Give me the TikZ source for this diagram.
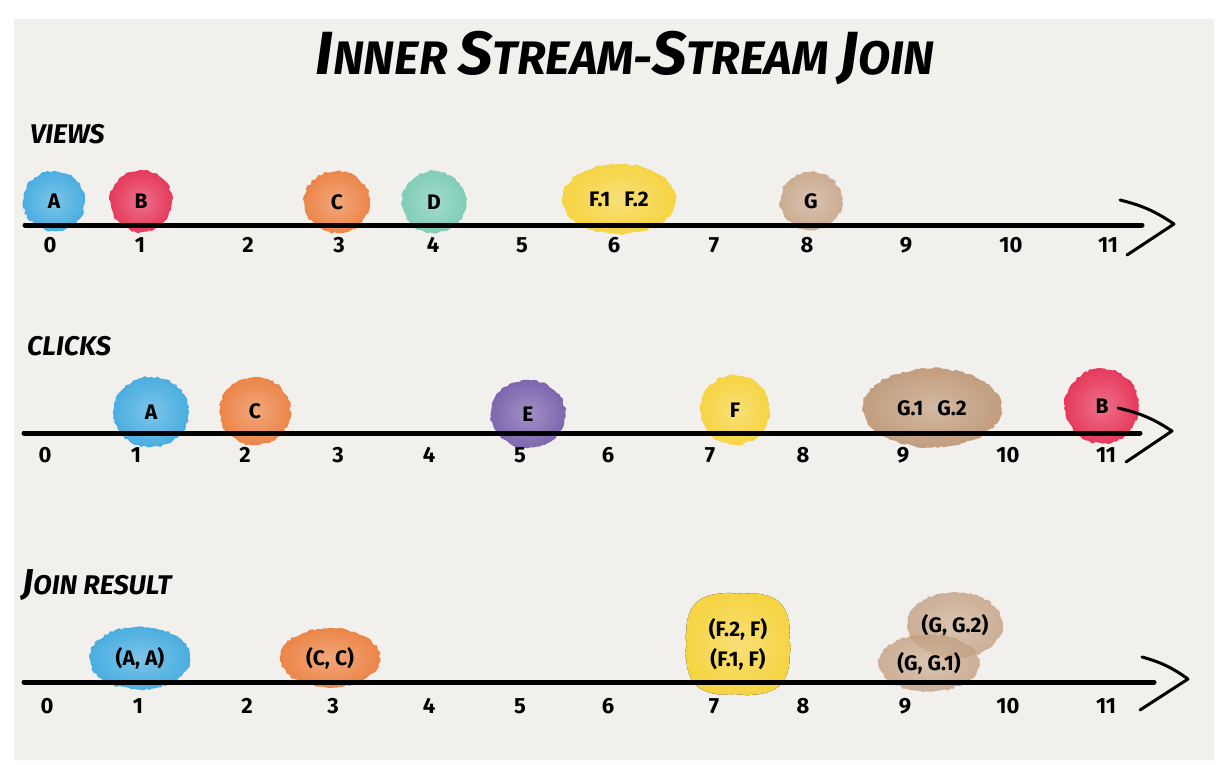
\documentclass[tikz,border=0pt]{standalone}
\usepackage{fontspec}
\setmainfont{Fira Sans}
\usetikzlibrary{shapes.geometric,decorations.pathmorphing}
\definecolor{bg}{HTML}{F2F0ED}
\definecolor{cblue}{HTML}{4AAEE0}
\definecolor{cred}{HTML}{E6395B}
\definecolor{corange}{HTML}{EC8548}
\definecolor{cteal}{HTML}{7FCDB7}
\definecolor{cyellow}{HTML}{F6D443}
\definecolor{ctan}{HTML}{C29D7E}
\definecolor{cpurple}{HTML}{7D66AE}
\newcommand\lblfont{\fontsize{21}{30}\selectfont\bfseries}
\newcommand\numfont{\fontsize{22}{24}\selectfont\bfseries}
\newcommand\secfont{\fontsize{27}{28}\selectfont\bfseries\itshape}
\newcommand\tcap[1]{{\fontsize{61}{61}\selectfont #1}}
\newcommand\scap[1]{{\fontsize{36}{36}\selectfont #1}}
\begin{document}
\begin{tikzpicture}[x=1pt,y=-1pt,
  blobfill/.style={decorate, decoration={random steps,segment length=3pt,amplitude=1.2pt},
    inner color=#1!72!white, outer color=#1},
  blob/.style={ellipse, inner sep=0pt, text=black, font=\lblfont, blobfill=#1},
  axis/.style={line width=5pt, line cap=round},
  chev/.style={line width=3pt, line cap=round, line join=round},
  tick/.style={font=\numfont, inner sep=0pt},
  sec/.style={font=\secfont, anchor=west, inner sep=0pt}]
\pgfmathsetseed{7}
\useasboundingbox (0,0) rectangle (1222,764);
\fill[white] (0,0) rectangle (1222,764);
\fill[bg] (14,19) rectangle (1214,760);

% title
\node[font=\bfseries\itshape\fontsize{47}{47}\selectfont, inner sep=0pt] (title) at (625,58)
  {\tcap{I}NNER \tcap{S}TREAM-\tcap{S}TREAM \tcap{J}OIN};

% section labels
\node[sec] (views) at (30,134) {VIEWS};
\node[sec] (clicks) at (27,346) {CLICKS};
\node[sec] (join) at (22,585) {\scap{J}OIN RESULT};

% views blobs
\node[blob=cblue, minimum width=62pt, minimum height=60pt] (vA) at (54,201) {A};
\node[blob=cred, minimum width=62pt, minimum height=62pt] (vB) at (141,201) {B};
\node[blob=corange, minimum width=66pt, minimum height=62pt] (vC) at (337,202) {C};
\node[blob=cteal, minimum width=64pt, minimum height=62pt] (vD) at (434,202) {D};
\node[blob=cyellow, minimum width=114pt, minimum height=70pt] (vF) at (619,199) {F.1\hspace{14pt}F.2};
\node[blob=ctan!85!white, minimum width=62pt, minimum height=58pt] (vG) at (811,201) {G};

% clicks blobs
\node[blob=cblue, minimum width=76pt, minimum height=70pt] (cA) at (151,412) {A};
\node[blob=corange, minimum width=71pt, minimum height=68pt] (cC) at (255,411) {C};
\node[blob=cpurple, minimum width=75pt, minimum height=68pt] (cE) at (528,414) {E};
\node[blob=cyellow, minimum width=69pt, minimum height=70pt] (cF) at (735,410) {F};
\node[blob=ctan, minimum width=139pt, minimum height=79pt] (cG) at (932,408) {G.1\hspace{14pt}G.2};
\node[blob=cred, minimum width=74pt, minimum height=75pt] (cB) at (1102,406) {B};

% join blobs
\node[blob=cblue, minimum width=101pt, minimum height=63pt] (jA) at (140,658) {(A, A)};
\node[blob=corange, minimum width=100pt, minimum height=60pt] (jC) at (330,658) {(C, C)};
\fill[blobfill=cyellow] plot[domain=0:356, samples=90]
  ({738+52*sign(cos(\x))*(abs(cos(\x))+0.0001)^0.62}, {644+51*sign(sin(\x))*(abs(sin(\x))+0.0001)^0.62}) -- cycle;
\node[font=\lblfont, align=center, inner sep=0pt] (jF) at (738,644) {(F.2, F)\\(F.1, F)};
\node[blob=ctan, fill opacity=0.78, text opacity=1, minimum width=95pt, minimum height=66pt] (jG2) at (955,625) {\raisebox{-3pt}{(G, G.2)}};
\node[blob=ctan, fill opacity=0.78, text opacity=1, minimum width=101pt, minimum height=57pt] (jG1) at (929,663) {\raisebox{-1pt}{(G, G.1)}};

% views axis
\coordinate (va) at (25,225);
\coordinate (vb) at (1142,225);
\coordinate (vh1) at (1120,200);
\coordinate (vt) at (1174,224);
\coordinate (vh2) at (1127,255);
\draw[axis] (va) -- (vb);
\draw[chev] (vh1) to[bend left=10] (vt) -- (vh2);

% clicks axis
\coordinate (ca) at (24,433);
\coordinate (cb) at (1140,433);
\coordinate (ch1) at (1118,408);
\coordinate (ct) at (1172,431);
\coordinate (ch2) at (1126,462);
\draw[axis] (ca) -- (cb);
\draw[chev] (ch1) to[bend left=10] (ct) -- (ch2);

% join axis
\coordinate (ja) at (24,682);
\coordinate (jb) at (1154,682);
\coordinate (jh1) at (1142,657);
\coordinate (jt) at (1188,679);
\coordinate (jh2) at (1140,710);
\draw[axis] (ja) -- (jb);
\draw[chev] (jh1) to[bend left=10] (jt) -- (jh2);

% tick labels
\foreach \n/\x in {0/50,1/140,2/248,3/339,4/433,5/522,6/614,7/714,8/807,9/906,10/1011,11/1108}
  \node[tick] (vn\n) at (\x,245) {\n};
\foreach \n/\x in {0/45,1/136,2/245,3/338,4/429,5/520,6/608,7/710,8/803,9/903,10/1008,11/1106}
  \node[tick] (cn\n) at (\x,455) {\n};
\foreach \n/\x in {0/47,1/138,2/247,3/333,4/429,5/520,6/608,7/714,8/803,9/905,10/1008,11/1106}
  \node[tick] (jn\n) at (\x,706) {\n};
\end{tikzpicture}
\end{document}
